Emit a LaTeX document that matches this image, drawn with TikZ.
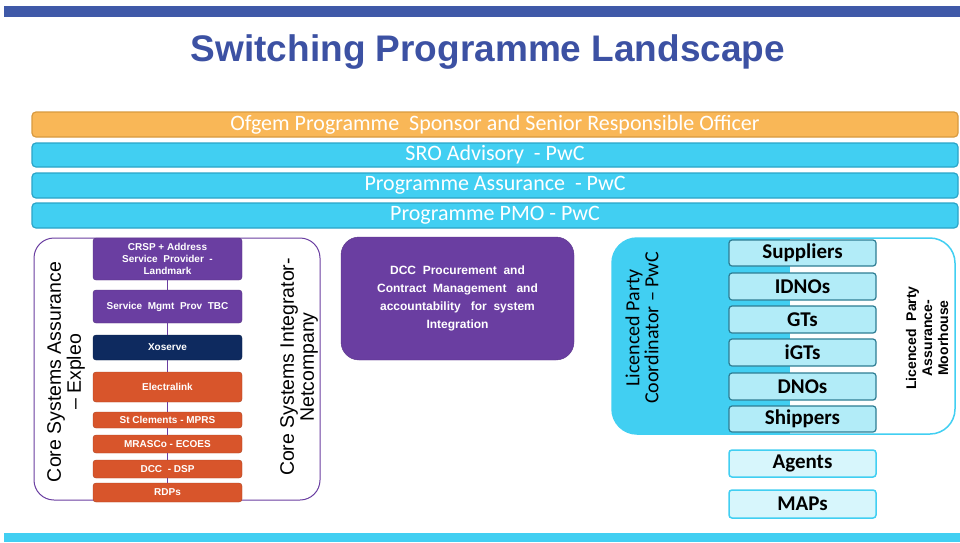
\documentclass[tikz,border=0pt]{standalone}
\usepackage{fontspec}
\setmainfont{Liberation Sans}
\newfontfamily\calfont{Carlito}
\usetikzlibrary{positioning}

\definecolor{topblue}{HTML}{3F59A8}
\definecolor{titleblue}{HTML}{3C51A3}
\definecolor{ofgem}{HTML}{F9B757}
\definecolor{ofgemedge}{HTML}{D89A3F}
\definecolor{pwc}{HTML}{41CFF2}
\definecolor{pwcedge}{HTML}{2AA5C8}
\definecolor{dccpurple}{HTML}{6A3EA1}
\definecolor{dccnavy}{HTML}{0E2A5F}
\definecolor{rec}{HTML}{D8552B}
\definecolor{party}{HTML}{B2ECF8}
\definecolor{partyedge}{HTML}{2E7D93}
\definecolor{agent}{HTML}{D7F6FC}

\tikzset{
  bar/.style={draw=pwcedge, fill=pwc, line width=1.2pt, rounded corners=4pt,
    minimum width=926pt, minimum height=24pt, inner sep=0pt, text=white,
    font=\calfont\fontsize{22}{24}\selectfont},
  sysbox/.style={draw=#1!80!black, fill=#1, rounded corners=3pt, minimum width=149pt,
    inner sep=0pt, text=white, align=center, font=\bfseries\fontsize{10}{12}\selectfont},
  partybox/.style={draw=partyedge, fill=party, line width=1.2pt, rounded corners=3pt,
    minimum width=147pt, minimum height=26pt, inner sep=0pt,
    font=\calfont\bfseries\fontsize{21}{24}\selectfont},
  agentbox/.style={partybox, draw=pwc, fill=agent, line width=1.5pt},
  sidetext/.style={rotate=90, align=center}
}

\begin{document}
\begin{tikzpicture}[x=1pt, y=-1pt]
\useasboundingbox (0,0) rectangle (960,542);
\fill [white] (0,0) rectangle (960,542);

% bands
\fill [topblue] (4,6) rectangle (960,17);
\fill [pwc] (4,533) rectangle (960,542);

\node [text=titleblue, font=\bfseries\fontsize{37}{40}\selectfont] (title) at (488,52) {Switching Programme Landscape};

% governance bars
\node [bar, draw=ofgemedge, fill=ofgem, minimum height=25pt] (ofgem) at (495,124.5) {Ofgem Programme\ \ Sponsor and Senior Responsible Officer};
\node [bar] (sro) at (495,155) {SRO Advisory\ \ - PwC};
\node [bar, minimum height=25pt] (assur) at (495,185.5) {Programme Assurance\ \ - PwC};
\node [bar, minimum height=25pt] (pmo) at (495,215.5) {Programme PMO - PwC};

% core systems
\node [draw=dccpurple, line width=1pt, rounded corners=20pt, minimum width=286pt, minimum height=262pt] (coresys) at (177,369) {};
\node [sidetext, font=\fontsize{19.5}{20}\selectfont] (expleo) at (66,372) {Core Systems Assurance\\– Expleo};
\node [sidetext, font=\fontsize{19.5}{20}\selectfont] (netco) at (299,367) {Core Systems Integrator-\\Netcompany};

\node [sysbox=dccpurple, minimum height=42pt, font=\bfseries\fontsize{10}{12}\selectfont] (crsp) at (167.5,259) {CRSP + Address\\Service\ \ Provider\ \ -\\Landmark};
\node [sysbox=dccpurple, minimum height=33pt] (svcmgmt) at (167.5,306.5) {Service\ \ Mgmt\ \ Prov\ \ TBC};
\node [sysbox=dccnavy, minimum height=25pt] (xoserve) at (167.5,347.5) {Xoserve};
\node [sysbox=rec, minimum height=30pt] (elink) at (167.5,387) {Electralink};
\node [sysbox=rec, minimum height=16pt] (stclem) at (167.5,420) {St Clements - MPRS};
\node [sysbox=rec, minimum height=18pt] (mrasco) at (167.5,444) {MRASCo - ECOES};
\node [sysbox=rec, minimum height=18pt] (dccdsp) at (167.5,469) {DCC\ \ - DSP};
\node [sysbox=rec, minimum height=19pt] (rdps) at (167.5,492.5) {RDPs};

\draw [dccpurple, line width=1pt] (crsp) -- (svcmgmt);
\draw [dccpurple, line width=1pt] (svcmgmt) -- (xoserve);
\draw [dccpurple, line width=1pt] (xoserve) -- (elink);
\draw [dccpurple, line width=1pt] (elink) -- (stclem);
\draw [dccpurple, line width=1pt] (stclem) -- (mrasco);
\draw [dccpurple, line width=1pt] (mrasco) -- (dccdsp);
\draw [dccpurple, line width=1pt] (dccdsp) -- (rdps);

% DCC procurement
\node [draw=dccpurple!85!black, fill=dccpurple, rounded corners=18pt, minimum width=233pt, minimum height=123pt,
  text=white, align=center, font=\bfseries\fontsize{12}{18}\selectfont] (dccproc) at (457.5,298.5)
  {DCC\ \ Procurement\ \ and\\Contract\ \ Management\ \ \ and\\accountability\ \ \ for\ \ system\\Integration};

% licenced parties
\begin{scope}
\clip [rounded corners=25pt] (612,238) rectangle (955,434);
\fill [white] (612,238) rectangle (955,434);
\fill [pwc] (612,238) rectangle (790,434);
\end{scope}
\node [draw=pwc, line width=1.5pt, rounded corners=25pt, minimum width=343pt, minimum height=196pt] (lpgroup) at (783.5,336) {};
\node [sidetext, font=\calfont\fontsize{20}{19}\selectfont] (lpc) at (642,328) {Licenced Party\\Coordinator – PwC};
\node [sidetext, font=\bfseries\fontsize{14}{16}\selectfont] (lpa) at (927,338) {Licenced\ \ Party\\Assurance-\\Moorhouse};

\node [partybox] (suppliers) at (802.5,253) {Suppliers};
\node [partybox, minimum height=27pt] (idnos) at (802.5,286.5) {IDNOs};
\node [partybox, minimum height=27pt] (gts) at (802.5,319.5) {GTs};
\node [partybox, minimum height=27pt] (igts) at (802.5,352.5) {iGTs};
\node [partybox, minimum height=27pt] (dnos) at (802.5,386.5) {DNOs};
\node [partybox] (shippers) at (802.5,419) {Shippers};
\node [agentbox, minimum height=27pt] (agents) at (802.5,463.5) {Agents};
\node [agentbox, minimum height=28pt] (maps) at (802.5,504) {MAPs};
\end{tikzpicture}
\end{document}
